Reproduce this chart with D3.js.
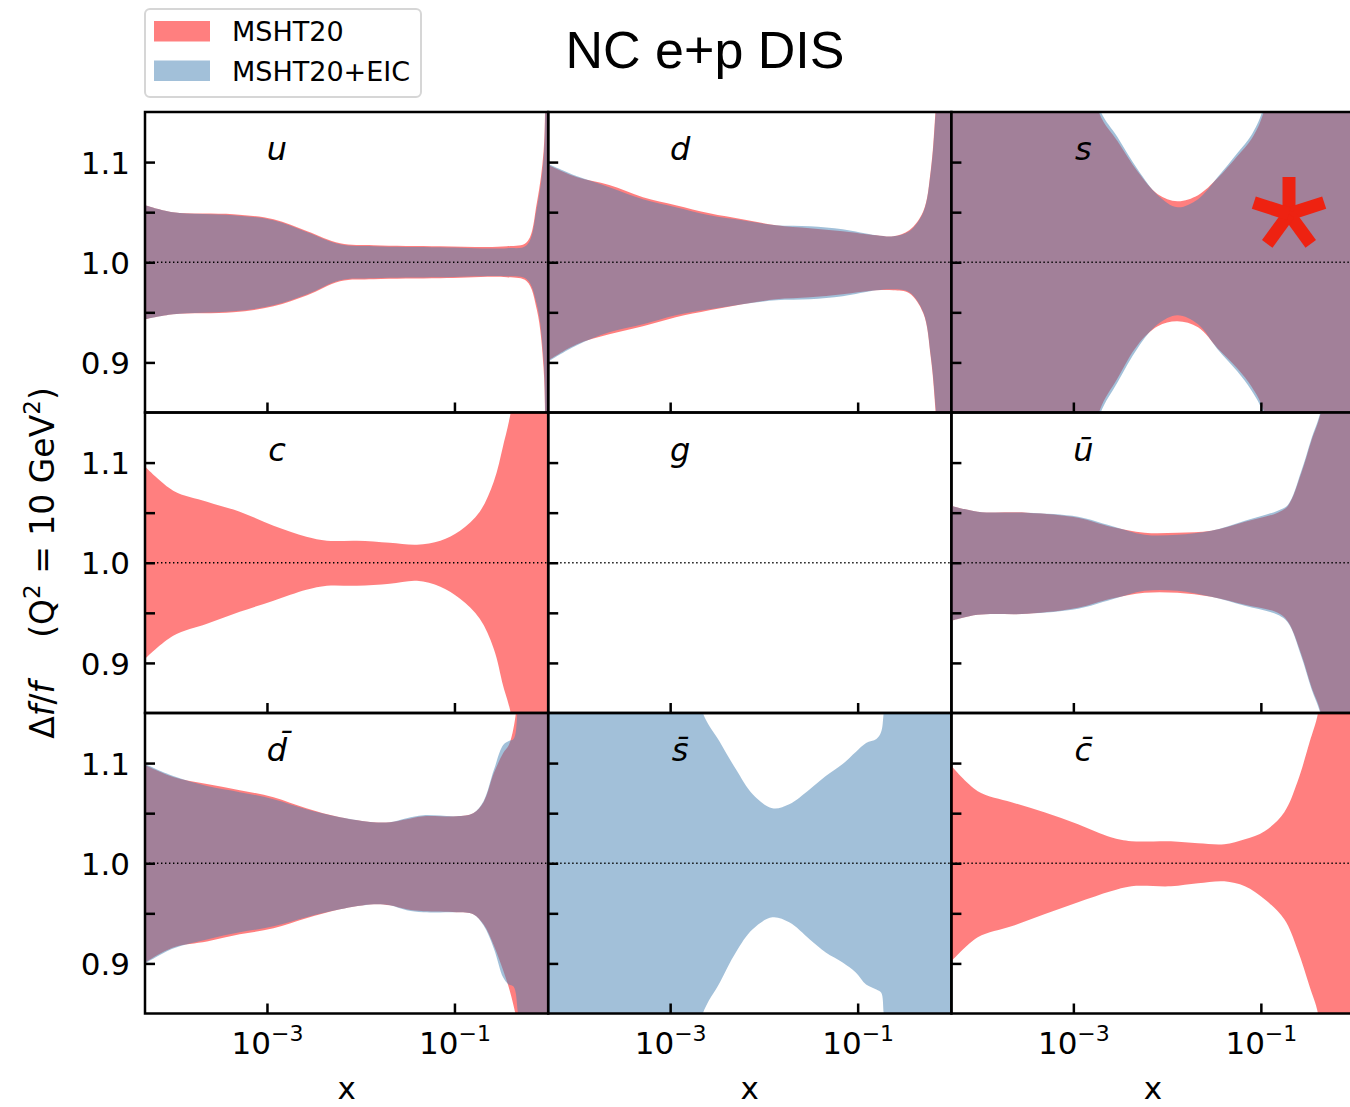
<!DOCTYPE html>
<html>
<head>
<meta charset="utf-8">
<script src="https://cdn.jsdelivr.net/npm/d3@7"></script>
<style>
  body { margin: 0; background: #fff; }
  svg { display: block; }
  text { font-family: "DejaVu Sans", sans-serif; fill: #000; }
</style>
</head>
<body>
<svg id="chart" width="1350" height="1107"></svg>
<script>
// ---------------- data: relative PDF uncertainty bands, Q^2 = 10 GeV^2 ----------------
// x positions are given as log10(x); each band is [lower, upper] of f(x) relative to central.

const uLogX  = [-4.30, -4.00, -3.36, -2.93, -2.57, -2.22, -1.86, -1.15, -0.44, -0.23, -0.12, -0.05, -0.03, 0];
const uRedHi = [1.057, 1.050, 1.048, 1.043, 1.031, 1.019, 1.017, 1.016, 1.016, 1.020, 1.060, 1.110, 1.170, 1.30];
const uRedLo = [0.943, 0.948, 0.950, 0.956, 0.967, 0.981, 0.983, 0.984, 0.985, 0.981, 0.952, 0.895, 0.830, 0.70];
const uEicHi = [1.057, 1.050, 1.047, 1.042, 1.030, 1.018, 1.016, 1.015, 1.014, 1.017, 1.055, 1.103, 1.160, 1.30];
const uEicLo = [0.943, 0.948, 0.951, 0.957, 0.968, 0.982, 0.984, 0.985, 0.986, 0.983, 0.957, 0.903, 0.840, 0.70];

const dLogX  = [-4.30, -4.00, -3.65, -3.29, -2.94, -2.58, -2.23, -1.87, -1.51, -1.16, -0.80, -0.62, -0.45, -0.30, -0.22, -0.16, 0];
const dRedHi = [1.097, 1.085, 1.077, 1.065, 1.057, 1.049, 1.043, 1.037, 1.034, 1.031, 1.027, 1.026, 1.032, 1.051, 1.092, 1.165, 1.40];
const dRedLo = [0.902, 0.918, 0.928, 0.936, 0.945, 0.952, 0.958, 0.963, 0.965, 0.968, 0.972, 0.972, 0.969, 0.949, 0.905, 0.840, 0.60];
const dEicHi = [1.098, 1.086, 1.075, 1.063, 1.055, 1.047, 1.042, 1.037, 1.036, 1.033, 1.027, 1.026, 1.031, 1.050, 1.090, 1.160, 1.40];
const dEicLo = [0.901, 0.917, 0.930, 0.938, 0.947, 0.953, 0.958, 0.962, 0.963, 0.966, 0.972, 0.973, 0.970, 0.950, 0.907, 0.845, 0.60];

const sLogX  = [-4.30, -3.30, -2.90, -2.72, -2.53, -2.31, -2.10, -1.89, -1.67, -1.46, -1.25, -1.10, -0.97, -0.80, 0];
const sRedHi = [1.60, 1.45, 1.23, 1.148, 1.121, 1.090, 1.068, 1.061, 1.067, 1.084, 1.106, 1.123, 1.150, 1.25, 1.60];
const sRedLo = [0.40, 0.55, 0.77, 0.852, 0.884, 0.918, 0.936, 0.941, 0.935, 0.914, 0.894, 0.876, 0.852, 0.75, 0.40];
const sEicHi = [1.60, 1.45, 1.24, 1.153, 1.125, 1.092, 1.067, 1.055, 1.063, 1.085, 1.109, 1.127, 1.155, 1.25, 1.60];
const sEicLo = [0.40, 0.55, 0.76, 0.847, 0.880, 0.915, 0.938, 0.947, 0.938, 0.913, 0.891, 0.872, 0.848, 0.75, 0.40];

const cLogX  = [-4.30, -4.00, -3.64, -3.29, -2.93, -2.58, -2.36, -2.04, -1.69, -1.40, -1.15, -0.94, -0.73, -0.58, -0.48, -0.40, -0.25, 0];
const cRedHi = [1.096, 1.072, 1.061, 1.051, 1.037, 1.026, 1.022, 1.022, 1.020, 1.018, 1.022, 1.032, 1.051, 1.081, 1.117, 1.150, 1.25, 1.50];
const cRedLo = [0.904, 0.927, 0.939, 0.951, 0.962, 0.973, 0.977, 0.977, 0.979, 0.982, 0.976, 0.964, 0.944, 0.914, 0.877, 0.850, 0.75, 0.50];

const ubLogX  = [-4.30, -4.02, -3.49, -2.95, -2.60, -2.24, -1.89, -1.53, -1.17, -0.82, -0.71, -0.57, -0.46, -0.36, -0.20, 0];
const ubRedHi = [1.057, 1.051, 1.050, 1.045, 1.036, 1.030, 1.030, 1.032, 1.041, 1.050, 1.057, 1.089, 1.122, 1.150, 1.25, 1.50];
const ubRedLo = [0.942, 0.948, 0.949, 0.955, 0.964, 0.970, 0.970, 0.966, 0.958, 0.950, 0.941, 0.909, 0.876, 0.850, 0.75, 0.50];
const ubEicHi = [1.057, 1.051, 1.050, 1.046, 1.037, 1.028, 1.028, 1.032, 1.042, 1.052, 1.058, 1.091, 1.124, 1.152, 1.25, 1.50];
const ubEicLo = [0.942, 0.948, 0.949, 0.954, 0.963, 0.972, 0.972, 0.966, 0.957, 0.948, 0.940, 0.907, 0.874, 0.848, 0.75, 0.50];

const dbLogX  = [-4.30, -4.00, -3.64, -3.29, -2.93, -2.58, -2.22, -1.86, -1.69, -1.51, -1.33, -0.98, -0.80, -0.69, -0.58, -0.48, -0.42, -0.37, -0.32, 0];
const dbRedHi = [1.098, 1.086, 1.079, 1.073, 1.066, 1.055, 1.046, 1.041, 1.041, 1.044, 1.047, 1.047, 1.050, 1.061, 1.090, 1.110, 1.118, 1.135, 1.170, 1.50];
const dbRedLo = [0.901, 0.916, 0.922, 0.929, 0.935, 0.945, 0.954, 0.959, 0.958, 0.954, 0.952, 0.951, 0.949, 0.939, 0.918, 0.893, 0.876, 0.858, 0.835, 0.50];
const dbEicHi = [1.099, 1.087, 1.077, 1.071, 1.064, 1.054, 1.046, 1.041, 1.041, 1.045, 1.048, 1.047, 1.050, 1.062, 1.093, 1.118, 1.122, 1.124, 1.160, 1.50];
const dbEicLo = [0.900, 0.915, 0.924, 0.931, 0.937, 0.946, 0.954, 0.959, 0.958, 0.953, 0.951, 0.951, 0.949, 0.938, 0.915, 0.886, 0.879, 0.877, 0.848, 0.50];

const sbLogX  = [-4.30, -3.30, -2.85, -2.66, -2.47, -2.30, -2.12, -1.91, -1.73, -1.51, -1.34, -1.16, -1.02, -0.91, -0.80, -0.75, -0.72, -0.60, 0];
const sbEicHi = [1.60, 1.45, 1.25, 1.152, 1.121, 1.094, 1.069, 1.055, 1.059, 1.074, 1.087, 1.099, 1.111, 1.120, 1.124, 1.131, 1.152, 1.25, 1.60];
const sbEicLo = [0.40, 0.55, 0.75, 0.848, 0.881, 0.911, 0.934, 0.946, 0.941, 0.924, 0.911, 0.901, 0.891, 0.879, 0.874, 0.871, 0.848, 0.75, 0.40];

const cbLogX  = [-4.30, -4.02, -3.66, -3.31, -2.95, -2.60, -2.38, -1.96, -1.67, -1.39, -1.17, -0.96, -0.75, -0.61, -0.48, -0.39, -0.25, 0];
const cbRedHi = [1.097, 1.072, 1.061, 1.051, 1.039, 1.026, 1.022, 1.022, 1.020, 1.019, 1.024, 1.032, 1.051, 1.081, 1.121, 1.150, 1.25, 1.50];
const cbRedLo = [0.902, 0.926, 0.937, 0.949, 0.961, 0.972, 0.977, 0.977, 0.980, 0.982, 0.977, 0.964, 0.944, 0.914, 0.877, 0.850, 0.75, 0.50];

const flavourLabels = ["u", "d", "s", "c", "g", "u\u0304", "d\u0304", "s\u0304", "c\u0304"];
const seriesNames   = ["MSHT20", "MSHT20+EIC"];
const yTicksMajor   = [0.9, 1.0, 1.1];
const yTicksMinor   = [0.95, 1.05];
const xTicksMajor   = [1e-3, 1e-1];
const titleText     = "NC e+p DIS";

// ---------------- assemble panels ----------------
const zipBand = (lx, lo, hi) => lx.map((v, i) => ({ lx: v, lo: lo[i], hi: hi[i] }));
const panels = [
  { label: flavourLabels[0], red: zipBand(uLogX, uRedLo, uRedHi),    eic: zipBand(uLogX, uEicLo, uEicHi) },
  { label: flavourLabels[1], red: zipBand(dLogX, dRedLo, dRedHi),    eic: zipBand(dLogX, dEicLo, dEicHi) },
  { label: flavourLabels[2], red: zipBand(sLogX, sRedLo, sRedHi),    eic: zipBand(sLogX, sEicLo, sEicHi), star: true },
  { label: flavourLabels[3], red: zipBand(cLogX, cRedLo, cRedHi),    eic: null },
  { label: flavourLabels[4], red: null,                              eic: null },
  { label: flavourLabels[5], red: zipBand(ubLogX, ubRedLo, ubRedHi), eic: zipBand(ubLogX, ubEicLo, ubEicHi) },
  { label: flavourLabels[6], red: zipBand(dbLogX, dbRedLo, dbRedHi), eic: zipBand(dbLogX, dbEicLo, dbEicHi) },
  { label: flavourLabels[7], red: null,                              eic: zipBand(sbLogX, sbEicLo, sbEicHi) },
  { label: flavourLabels[8], red: zipBand(cbLogX, cbRedLo, cbRedHi), eic: null }
];

// ---------------- layout ----------------
const RED  = "rgba(255,0,0,0.5)";
const BLUE = "rgba(70,130,180,0.5)";
const PW = 403.2, PH = 300.5, X0 = 145, Y0 = 112;
const SPINE = 2.5, TICK = 10;

const svg = d3.select("#chart");
const x = d3.scaleLog().domain([5e-5, 1]).range([0, PW]);
const y = d3.scaleLinear().domain([0.85, 1.15]).range([PH, 0]);

const area = d3.area()
  .x(d => x(Math.pow(10, d.lx)))
  .y0(d => y(d.lo))
  .y1(d => y(d.hi))
  .curve(d3.curveCatmullRom.alpha(0.5));

const fmtY = d3.format(".1f");

panels.forEach((p, i) => {
  const col = i % 3, row = Math.floor(i / 3);
  const ox = X0 + col * PW, oy = Y0 + row * PH;
  const g = svg.append("g").attr("transform", `translate(${ox},${oy})`);

  const clipId = "panel-clip-" + i;
  g.append("clipPath").attr("id", clipId)
    .append("rect").attr("width", PW).attr("height", PH);
  const plot = g.append("g").attr("clip-path", `url(#${clipId})`);

  if (p.red) plot.append("path").datum(p.red).attr("d", area).attr("fill", RED);
  if (p.eic) plot.append("path").datum(p.eic).attr("d", area).attr("fill", BLUE);

  // reference line at unity
  plot.append("line")
    .attr("x1", 0).attr("x2", PW)
    .attr("y1", y(1)).attr("y2", y(1))
    .attr("stroke", "#000").attr("stroke-width", 1.4)
    .attr("stroke-dasharray", "1.4,2.6");

  // y axis (ticks pointing inward)
  const yAxis = d3.axisLeft(y)
    .tickValues(yTicksMajor.concat(yTicksMinor))
    .tickSize(-TICK)
    .tickPadding(15)
    .tickFormat(d => (col === 0 && yTicksMajor.some(t => Math.abs(t - d) < 1e-9)) ? fmtY(d) : "");
  const ya = g.append("g").call(yAxis);
  ya.select(".domain").remove();
  ya.selectAll(".tick line").attr("stroke", "#000").attr("stroke-width", SPINE);
  ya.selectAll(".tick text")
    .attr("font-family", "DejaVu Sans").attr("font-size", 31).attr("dy", "0.36em");

  // x axis (ticks pointing inward)
  const xAxis = d3.axisBottom(x)
    .tickValues(xTicksMajor)
    .tickSize(-TICK)
    .tickFormat(() => "");
  const xa = g.append("g").attr("transform", `translate(0,${PH})`).call(xAxis);
  xa.select(".domain").remove();
  xa.selectAll(".tick line").attr("stroke", "#000").attr("stroke-width", SPINE);
  if (row === 2) {
    xa.selectAll(".tick text").each(function (d) {
      const t = d3.select(this)
        .attr("y", 40).attr("dy", null)
        .attr("font-family", "DejaVu Sans").attr("font-size", 31)
        .attr("text-anchor", "middle");
      t.text(null);
      t.append("tspan").text("10");
      t.append("tspan")
        .attr("font-size", 22).attr("dy", -13)
        .text("\u2212" + Math.abs(Math.round(Math.log10(d))));
    });
    g.append("text")
      .attr("x", PW / 2).attr("y", PH + 85)
      .attr("text-anchor", "middle")
      .attr("font-size", 31)
      .text("x");
  }

  // frame
  g.append("rect")
    .attr("width", PW).attr("height", PH)
    .attr("fill", "none").attr("stroke", "#000").attr("stroke-width", SPINE);

  // flavour label
  g.append("text")
    .attr("x", 132).attr("y", 48)
    .attr("text-anchor", "middle")
    .attr("font-style", "italic")
    .attr("font-size", 32)
    .text(p.label);

  // highlight marker
  if (p.star) {
    const star = g.append("g").attr("transform", `translate(${1289 - ox},${214 - oy})`);
    d3.range(5).forEach(k => {
      star.append("rect")
        .attr("x", -6.5).attr("y", -37)
        .attr("width", 13).attr("height", 37)
        .attr("fill", "#ee2211")
        .attr("transform", `rotate(${k * 72})`);
    });
  }
});

// ---------------- title ----------------
svg.append("text")
  .attr("x", 705).attr("y", 68)
  .attr("text-anchor", "middle")
  .style("font-family", "'Liberation Sans', Arial, sans-serif")
  .attr("font-size", 52)
  .text(titleText);

// ---------------- legend ----------------
const legend = svg.append("g");
legend.append("rect")
  .attr("x", 145).attr("y", 9).attr("width", 276).attr("height", 88)
  .attr("rx", 5).attr("fill", "#fff").attr("stroke", "#d6d6d6").attr("stroke-width", 2);
[RED, BLUE].forEach((c, k) => {
  legend.append("rect")
    .attr("x", 154).attr("y", 21 + k * 39.5).attr("width", 56).attr("height", 20.5)
    .attr("fill", c);
  legend.append("text")
    .attr("x", 232).attr("y", 41 + k * 39.5)
    .attr("font-size", 27)
    .text(seriesNames[k]);
});

// ---------------- y axis title ----------------
const yt = svg.append("text")
  .attr("transform", "translate(54,563) rotate(-90)")
  .attr("text-anchor", "middle")
  .attr("font-size", 33);
yt.append("tspan").text("\u0394");
yt.append("tspan").attr("font-style", "italic").text("f");
yt.append("tspan").text("/");
yt.append("tspan").attr("font-style", "italic").text("f");
yt.append("tspan").attr("dx", 44).text("(Q");
yt.append("tspan").attr("font-size", 23).attr("dy", -14).text("2");
yt.append("tspan").attr("dy", 14).text(" = 10 GeV");
yt.append("tspan").attr("font-size", 23).attr("dy", -14).text("2");
yt.append("tspan").attr("dy", 14).text(")");
</script>
</body>
</html>
